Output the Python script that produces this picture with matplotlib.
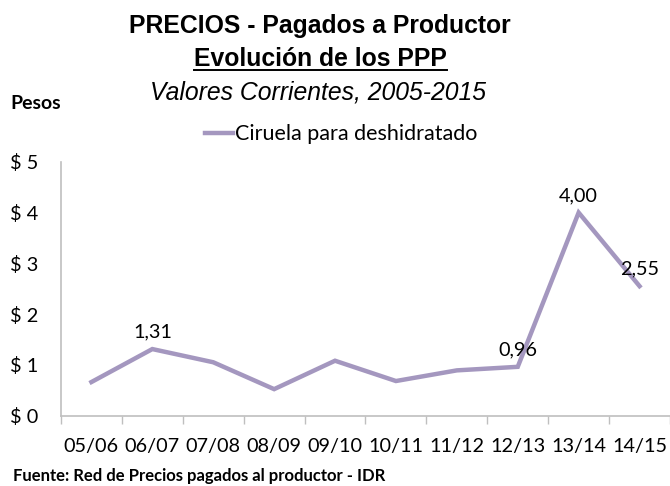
import matplotlib.pyplot as plt
from matplotlib.lines import Line2D
import numpy as np

# data
seasons = ['05/06', '06/07', '07/08', '08/09', '09/10',
           '10/11', '11/12', '12/13', '13/14', '14/15']
prices = [0.66, 1.31, 1.05, 0.52, 1.08, 0.68, 0.89, 0.96, 4.00, 2.55]
labelled = {1: '1,31', 7: '0,96', 8: '4,00', 9: '2,55'}
y_ticks = [0, 1, 2, 3, 4, 5]
series_name = 'Ciruela para deshidratado'

LINE_COLOR = '#A497BF'
AXIS_COLOR = '#BFBFBF'
BODY_FONT = ['Lato', 'DejaVu Sans']
TITLE_FONT = ['Liberation Sans', 'DejaVu Sans']
BODY_SIZE = 14.3

fig = plt.figure(figsize=(6.7, 4.86), dpi=100)
ax = fig.add_axes([0.091, 0.145, 0.909, 0.522])

x = np.arange(len(seasons))
line, = ax.plot(x, prices, color=LINE_COLOR, lw=3.2, solid_joinstyle='miter',
                label=series_name)

for i, txt in labelled.items():
    ax.annotate(txt, (x[i], prices[i]), xytext=(0, 6), textcoords='offset points',
                ha='center', va='bottom', fontsize=BODY_SIZE, family=BODY_FONT)

ax.set_xlim(-0.5, len(seasons) - 0.5)
ax.set_ylim(0, 5)
ax.set_xticks(x)
ax.set_xticklabels(seasons, fontsize=BODY_SIZE, family=BODY_FONT)
ax.set_xticks(np.arange(len(seasons) + 1) - 0.5, minor=True)
ax.tick_params(axis='x', which='major', length=0, pad=16)
ax.tick_params(axis='x', which='minor', length=6, color=AXIS_COLOR, width=1)
ax.set_yticks(y_ticks)
ax.set_yticklabels([f'$ {v}' for v in y_ticks], fontsize=BODY_SIZE, family=BODY_FONT)
ax.tick_params(axis='y', length=0, pad=37)
for lbl in ax.get_yticklabels():
    lbl.set_horizontalalignment('left')

for side in ('top', 'right'):
    ax.spines[side].set_visible(False)
for side in ('left', 'bottom'):
    ax.spines[side].set_color(AXIS_COLOR)
    ax.spines[side].set_linewidth(1.2)

# titles
fig.text(0.477, 0.9465, 'PRECIOS - Pagados a Productor', ha='center', va='center',
         fontsize=17.8, fontweight='bold', family=TITLE_FONT)
sub = fig.text(0.479, 0.879, 'Evolución de los PPP', ha='center', va='center',
               fontsize=17.8, fontweight='bold', family=TITLE_FONT)
fig.text(0.475, 0.809, 'Valores Corrientes, 2005-2015', ha='center', va='center',
         fontsize=17.8, style='italic', family=TITLE_FONT)
fig.text(0.016, 0.788, 'Pesos', ha='left', va='center', fontsize=14,
         fontweight='bold', family=BODY_FONT)
fig.text(0.019, 0.02, 'Fuente: Red de Precios pagados al productor - IDR',
         ha='left', va='center', fontsize=12, fontweight='bold', family=BODY_FONT)

# underline the second title line
fig.canvas.draw()
bb = sub.get_window_extent().transformed(fig.transFigure.inverted())
fig.add_artist(Line2D([bb.x0, bb.x1], [bb.y0 + 0.002, bb.y0 + 0.002],
                      transform=fig.transFigure, color='black', lw=1.4))

leg = fig.legend(handles=[line], loc='center', bbox_to_anchor=(0.509, 0.724),
                 frameon=False, handlelength=1.3, handletextpad=0.1,
                 prop={'family': BODY_FONT, 'size': 15.5})

fig.savefig('out.png', dpi=100)
